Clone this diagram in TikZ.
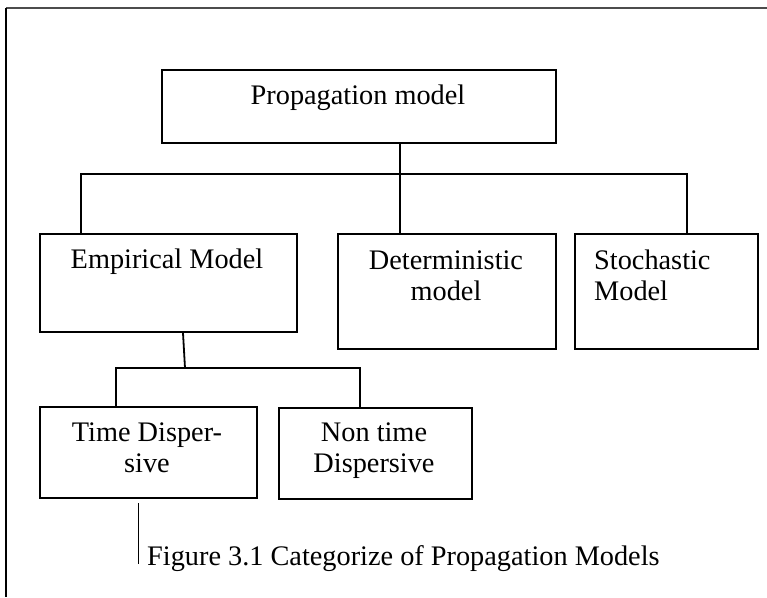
\documentclass[tikz,border=0pt]{standalone}
\usepackage{fontspec}
\setmainfont{Liberation Serif}
\begin{document}
\begin{tikzpicture}[x=1pt,y=-1pt,
  box/.style={draw, line width=2pt, inner sep=0pt, anchor=north west},
  lbl/.style={font=\fontsize{28.3}{31}\selectfont, inner sep=0pt, anchor=base, align=center},
  conn/.style={line width=1.8pt},
  frame/.style={line width=2pt}]
\useasboundingbox (0,0) rectangle (767,597);
% frame
\coordinate (fTR) at (767,8);
\coordinate (fTL) at (6,8);
\coordinate (fBL) at (6,597);
\draw[frame, black!70] (fTL) -- (fTR);
\draw[frame] (fTL) -- (fBL);
% boxes
\node[box, minimum width=394pt, minimum height=73pt] (root) at (161,69) {};
\node[box, minimum width=257pt, minimum height=98pt] (emp) at (39,233) {};
\node[box, minimum width=218pt, minimum height=115pt] (det) at (337,233) {};
\node[box, minimum width=183pt, minimum height=115pt] (sto) at (574,233) {};
\node[box, minimum width=217pt, minimum height=91pt] (td) at (39,406) {};
\node[box, minimum width=193pt, minimum height=91pt] (nt) at (278,407) {};
% labels (base anchor = baseline of last line)
\node[lbl] (rootT) at (358,104) {Propagation model};
\node[lbl] (empT) at (167,268) {Empirical Model};
\node[lbl] (detT) at (446,300) {Deterministic\\model};
\node[lbl, anchor=base west, align=left] (stoT) at (594,300) {Stochastic\\Model};
\node[lbl] (tdT) at (147,472) {Time Disper-\\sive};
\node[lbl] (ntT) at (374,472) {Non time\\Dispersive};
% connectors level 1
\coordinate (j1) at (400,174);
\coordinate (jL) at (81,174);
\coordinate (jR) at (687,174);
\draw[conn] (root.south -| j1) -- (j1);
\draw[conn] (emp.north -| jL) -- (jL) -- (jR) -- (sto.north -| jR);
\draw[conn] (j1) -- (det.north -| j1);
% connectors level 2
\coordinate (j2) at (185,368);
\coordinate (kL) at (116,368);
\coordinate (kR) at (360,368);
\draw[conn] ([xshift=14.5pt]emp.south) -- (j2);
\draw[conn] (td.north -| kL) -- (kL) -- (kR) -- (nt.north -| kR);
% caption
\coordinate (c1) at (138,503);
\coordinate (c2) at (138,564);
\draw[line width=0.9pt] (c1) -- (c2);
\node[lbl, anchor=base west] (cap) at (147,565) {Figure 3.1 Categorize of Propagation Models};
\end{tikzpicture}
\end{document}
